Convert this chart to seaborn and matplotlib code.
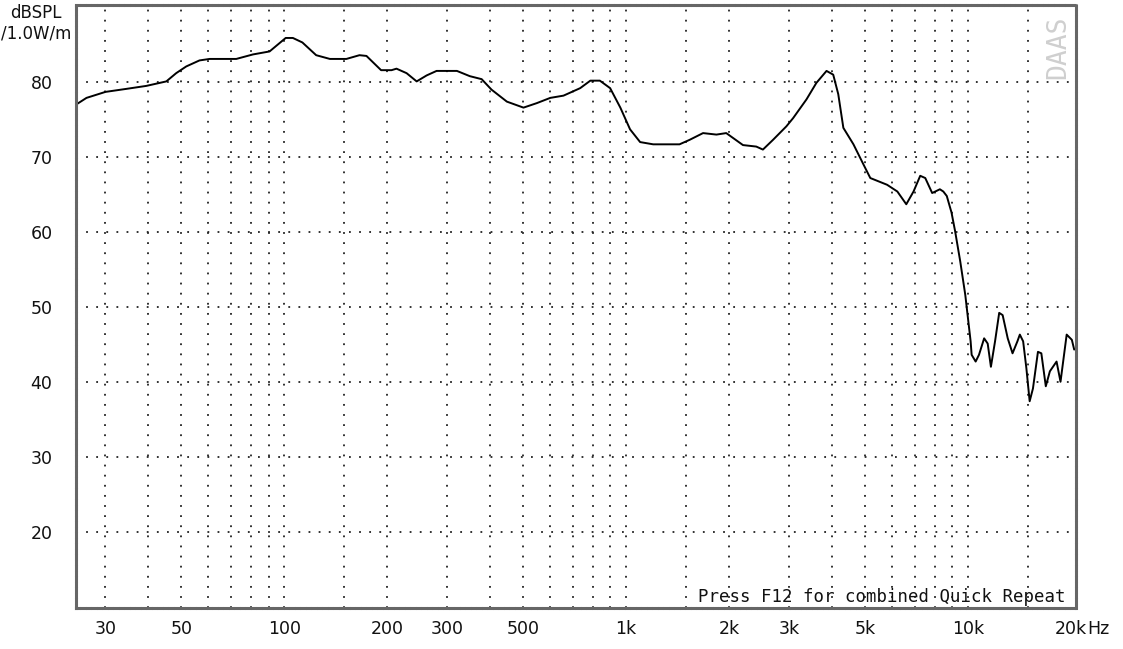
import numpy as np
import pandas as pd
import matplotlib
matplotlib.use("Agg")
import matplotlib.pyplot as plt
import seaborn as sns

# ---- data (frequency in Hz, level in dB SPL) ----
freq_hz = [24.6, 26.4, 30, 34.5, 39.5, 45.2, 48.3, 51.7, 56.5, 60.5, 72.4, 81, 90.6,
           101, 106, 113, 124, 136, 152, 166, 174, 192, 206, 213, 228, 244, 261, 279,
           320, 349, 378, 404, 448, 501, 548, 600, 656, 734, 786, 838, 898, 962,
           1027, 1099, 1200, 1433, 1534, 1679, 1837, 1963, 2197, 2403, 2513, 2690,
           2943, 3080, 3370, 3602, 3857, 4035, 4174, 4320, 4624, 4948, 5180, 5800,
           6215, 6600, 6930, 7250, 7500, 7857, 8276, 8470, 8670, 8950, 9170, 9490,
           9820, 10180, 10250, 10530, 10770, 11150, 11420, 11670, 12000, 12340,
           12630, 13070, 13500, 13950, 14180, 14500, 14820, 15150, 15490, 16020,
           16390, 16890, 17360, 18160, 18650, 19440, 20130, 20450]
spl_db = [77.0, 77.9, 78.7, 79.1, 79.5, 80.1, 81.2, 82.1, 82.9, 83.1, 83.1, 83.7, 84.1,
          85.9, 85.9, 85.3, 83.6, 83.1, 83.1, 83.6, 83.5, 81.6, 81.6, 81.8, 81.2, 80.1,
          80.9, 81.5, 81.5, 80.8, 80.4, 79.0, 77.4, 76.6, 77.2, 77.9, 78.2, 79.2, 80.2,
          80.2, 79.2, 76.6, 73.7, 72.0, 71.7, 71.7, 72.3, 73.2, 73.0, 73.2, 71.6, 71.4,
          71.0, 72.3, 74.1, 75.2, 77.7, 79.9, 81.5, 81.0, 78.4, 73.9, 71.7, 69.0, 67.2,
          66.3, 65.4, 63.7, 65.4, 67.5, 67.2, 65.2, 65.7, 65.4, 64.8, 62.6, 60.1, 56.1,
          51.6, 45.4, 43.6, 42.7, 43.6, 45.8, 45.1, 42.0, 45.4, 49.2, 48.9, 45.8, 43.8,
          45.4, 46.3, 45.4, 41.8, 37.4, 39.1, 44.0, 43.8, 39.4, 41.4, 42.7, 40.0, 46.3,
          45.6, 44.3]

x_label_pos = [30, 50, 100, 200, 300, 500, 1000, 2000, 3000, 5000, 10000, 20000]
x_label_txt = ["30", "50", "100", "200", "300", "500", "1k", "2k", "3k", "5k", "10k", "20k"]
x_grid_pos = [30, 40, 50, 60, 70, 80, 90, 100, 150,
              200, 300, 400, 500, 600, 700, 800, 900, 1000, 1500,
              2000, 3000, 4000, 5000, 6000, 7000, 8000, 9000, 10000, 15000]
y_ticks = [20, 30, 40, 50, 60, 70, 80]

df = pd.DataFrame({"freq": freq_hz, "spl": spl_db})

sns.set_style("white")
plt.rcParams["font.family"] = ["DejaVu Sans"]

W, H = 1123, 649
fig = plt.figure(figsize=(W / 100, H / 100), dpi=100)
ax = fig.add_axes([76 / W, 1 - 608 / H, 1000 / W, 603 / H])

sns.lineplot(data=df, x="freq", y="spl", ax=ax, color="black", linewidth=1.4,
             sort=False, estimator=None)

ax.set_xscale("log")
ax.set_xlim(24.6, 20700)
ax.set_ylim(9.8, 90.3)

# ticks / labels
ax.xaxis.remove_overlapping_locs = False
ax.set_xticks(x_label_pos)
ax.set_xticklabels(x_label_txt)
ax.set_xticks(x_grid_pos, minor=True)
ax.xaxis.set_minor_formatter(matplotlib.ticker.NullFormatter())
ax.set_yticks(y_ticks)
ax.set_yticklabels([str(v) for v in y_ticks])
ax.tick_params(axis="both", which="both", length=0, labelsize=12.5, colors="#111111")
ax.tick_params(axis="x", which="major", pad=9)
ax.tick_params(axis="y", which="major", pad=17)
ax.set_xlabel("")
ax.set_ylabel("")

# dotted grid
dot = (0, (1, 4.6))
ax.grid(False)
ax.xaxis.grid(True, which="minor", color="#222222", linestyle=dot, linewidth=1.3)
ax.xaxis.grid(False, which="major")
ax.yaxis.grid(True, which="major", color="#222222", linestyle=dot, linewidth=1.3)

for s in ax.spines.values():
    s.set_visible(True)
    s.set_color("#666666")
    s.set_linewidth(2.2)
    s.set_linestyle((0, (1.0, 0.8)))

# units next to the last tick label
ax.annotate("Hz", xy=(20000, 0), xycoords=("data", "axes fraction"),
            xytext=(12, -9), textcoords="offset points", ha="left", va="top",
            fontsize=12.5, color="#111111")

# y-axis unit label
fig.text(36 / W, 1 - 4 / H, "dBSPL\n/1.0W/m", ha="center", va="top",
         fontsize=12, color="#111111", linespacing=1.15)

# status text inside the plot
ax.text((1066 - 76) / 1000, 0.004, "Press F12 for combined Quick Repeat",
        transform=ax.transAxes, ha="right", va="bottom",
        fontsize=12.5, family="DejaVu Sans Mono", color="#111111")

# watermark
ax.text((1058 - 76) / 1000, 1 - 42 / 603, "DAAS", transform=ax.transAxes,
        rotation=90, ha="center", va="center", fontsize=19,
        family="DejaVu Sans Mono", color="#cfcfcf")

fig.savefig("out.png", dpi=100, facecolor="white")
